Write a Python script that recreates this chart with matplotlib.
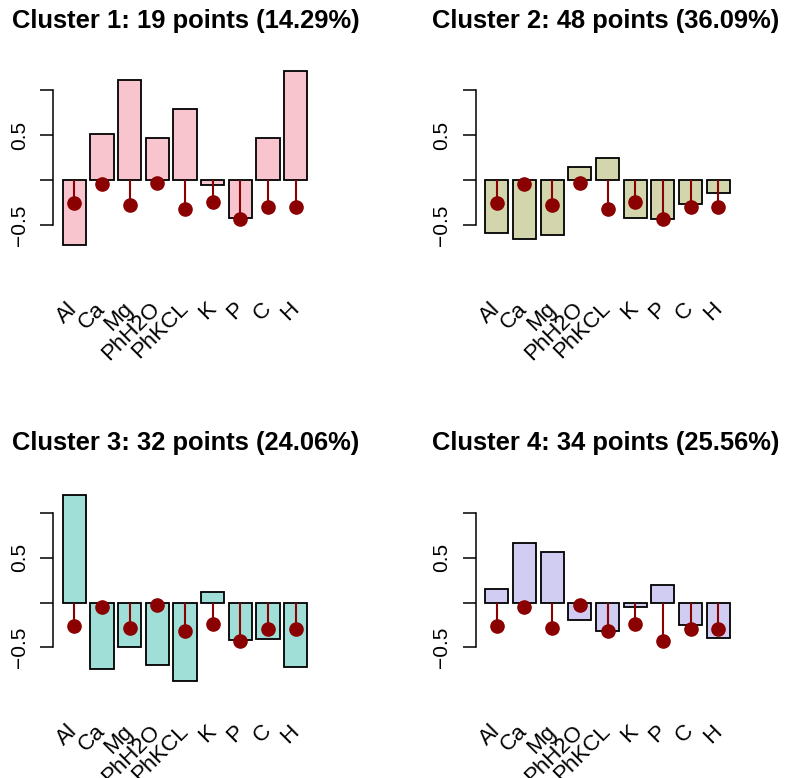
import matplotlib
matplotlib.use("Agg")
import matplotlib.pyplot as plt
import numpy as np

plt.rcParams['font.family'] = ['Liberation Sans', 'DejaVu Sans']

variables = ["Al", "Ca", "Mg", "PhH2O", "PhKCL", "K", "P", "C", "H"]
titles = ["Cluster 1: 19 points (14.29%)", "Cluster 2: 48 points (36.09%)",
          "Cluster 3: 32 points (24.06%)", "Cluster 4: 34 points (25.56%)"]
colors = ["#F8C4CE", "#D3D5AC", "#A0DFD7", "#D0CCF2"]

# cluster profiles (bars)
c1 = [-0.72, 0.51, 1.11, 0.47, 0.79, -0.06, -0.42, 0.47, 1.21]
c2 = [-0.59, -0.66, -0.61, 0.14, 0.24, -0.42, -0.43, -0.27, -0.14]
c3 = [1.20, -0.74, -0.49, -0.70, -0.87, 0.12, -0.42, -0.41, -0.72]
c4 = [0.155, 0.66, 0.56, -0.19, -0.32, -0.05, 0.19, -0.25, -0.40]
profiles = [c1, c2, c3, c4]

# reference values (red points)
ref = [-0.26, -0.05, -0.28, -0.03, -0.32, -0.24, -0.43, -0.30, -0.30]

W, H = 785, 778
fig = plt.figure(figsize=(W / 100, H / 100), dpi=100)

xs = 0.7 + 1.2 * np.arange(len(variables))
xlim = (-0.224, 11.224)
ylim = (-1.0, 1.3)
px_per_unit = 89.8
step = 422.5

for k in range(4):
    row, col = divmod(k, 2)
    left = 53 + col * step
    right = 317 + col * step
    zero = 180 + row * step
    top = zero - ylim[1] * px_per_unit
    bottom = zero - ylim[0] * px_per_unit
    ax = fig.add_axes([left / W, 1 - bottom / H, (right - left) / W, (bottom - top) / H])
    ax.set_xlim(*xlim)
    ax.set_ylim(*ylim)

    ax.bar(xs, profiles[k], width=1.0, color=colors[k], edgecolor="black",
           linewidth=1.3, zorder=2)
    ax.vlines(xs, 0, ref, color="#8B0000", linewidth=1.5, zorder=3)
    ax.plot(xs, ref, "o", color="#8B0000", markersize=9.5, zorder=4)

    for s in ["top", "right", "bottom"]:
        ax.spines[s].set_visible(False)
    ax.spines["left"].set_bounds(-0.5, 1.0)
    ax.spines["left"].set_linewidth(1.1)
    ax.set_xticks([])
    ax.set_yticks([-0.5, 0, 0.5, 1.0])
    ax.set_yticklabels(["\u22120.5", "", "0.5", ""], rotation=90, va="center",
                       fontsize=15)
    ax.tick_params(axis="y", direction="out", length=9.4, width=1.1, pad=8)

    for x, lab in zip(xs, variables):
        ax.text(x, -1.40, lab, rotation=45, rotation_mode="anchor",
                ha="right", va="center", fontsize=16, clip_on=False)

    fig.text((186 + col * 420) / W, 1 - (28 + row * 422) / H, titles[k],
             ha="center", va="baseline", fontsize=18.4, fontweight="bold")

fig.savefig("out.png", dpi=100, facecolor="white")
